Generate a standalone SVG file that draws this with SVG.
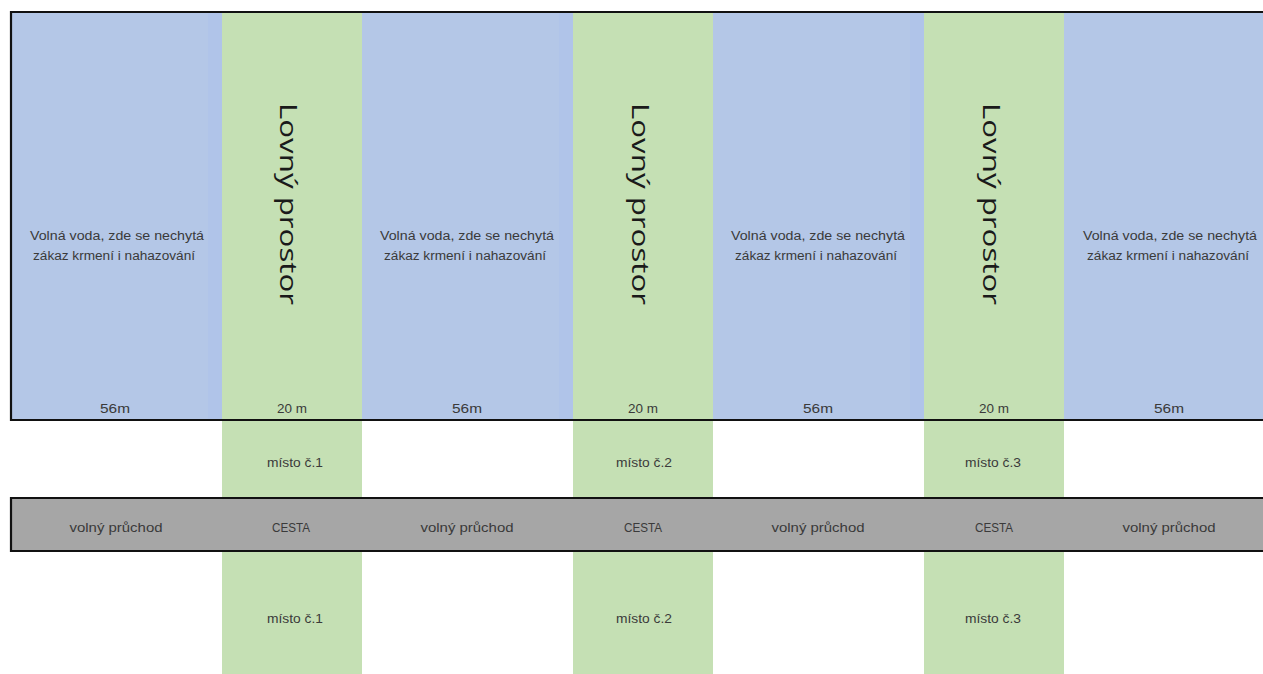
<svg xmlns="http://www.w3.org/2000/svg" width="1263" height="674" viewBox="0 0 1263 674">
  <style>
    .blue { fill: #b4c7e7; }
    .edge { fill: #b0c4e9; }
    .green { fill: #c5e0b4; }
    .road { fill: #a6a6a6; }
    .t { font-family: "Liberation Sans Narrow", "Liberation Sans", Arial, sans-serif; font-size: 12.5px; fill: #3a3a3a; text-anchor: middle; }
    .big { font-family: "Open Sans", "DejaVu Sans", sans-serif; font-size: 23px; fill: #1a1a1a; text-anchor: middle; }
    .ln { stroke: #111; stroke-width: 2.2; fill: none; }
  </style>
  <rect width="1263" height="674" fill="#ffffff"/>

  <g id="water-1">
    <rect class="blue" x="12" y="12" width="210" height="408"/>
    <rect class="edge" x="208" y="12" width="14" height="408"/>
    <text class="t" x="117" y="240" textLength="174" lengthAdjust="spacingAndGlyphs">Volná voda, zde se nechytá</text>
    <text class="t" x="114" y="260" textLength="162" lengthAdjust="spacingAndGlyphs">zákaz krmení i nahazování</text>
    <text class="t" x="115" y="413" textLength="30" lengthAdjust="spacingAndGlyphs">56m</text>
  </g>
  <g id="water-2">
    <rect class="blue" x="362" y="12" width="211" height="408"/>
    <rect class="edge" x="559" y="12" width="14" height="408"/>
    <text class="t" x="467" y="240" textLength="174" lengthAdjust="spacingAndGlyphs">Volná voda, zde se nechytá</text>
    <text class="t" x="465" y="260" textLength="162" lengthAdjust="spacingAndGlyphs">zákaz krmení i nahazování</text>
    <text class="t" x="467" y="413" textLength="30" lengthAdjust="spacingAndGlyphs">56m</text>
  </g>
  <g id="water-3">
    <rect class="blue" x="713" y="12" width="211" height="408"/>
    <rect class="edge" x="910" y="12" width="14" height="408"/>
    <text class="t" x="818" y="240" textLength="174" lengthAdjust="spacingAndGlyphs">Volná voda, zde se nechytá</text>
    <text class="t" x="816" y="260" textLength="162" lengthAdjust="spacingAndGlyphs">zákaz krmení i nahazování</text>
    <text class="t" x="818" y="413" textLength="30" lengthAdjust="spacingAndGlyphs">56m</text>
  </g>
  <g id="water-4">
    <rect class="blue" x="1064" y="12" width="199" height="408"/>
    <text class="t" x="1170" y="240" textLength="174" lengthAdjust="spacingAndGlyphs">Volná voda, zde se nechytá</text>
    <text class="t" x="1168" y="260" textLength="162" lengthAdjust="spacingAndGlyphs">zákaz krmení i nahazování</text>
    <text class="t" x="1169" y="413" textLength="30" lengthAdjust="spacingAndGlyphs">56m</text>
  </g>

  <g id="zone-1">
    <rect class="green" x="222" y="12" width="140" height="662"/>
    <text class="big" transform="translate(280,204) rotate(90)" textLength="202" lengthAdjust="spacingAndGlyphs">Lovný prostor</text>
    <text class="t" x="292" y="413" textLength="30" lengthAdjust="spacingAndGlyphs">20 m</text>
    <text class="t" x="295" y="467" textLength="56" lengthAdjust="spacingAndGlyphs">místo č.1</text>
    <text class="t" x="295" y="623" textLength="56" lengthAdjust="spacingAndGlyphs">místo č.1</text>
  </g>
  <g id="zone-2">
    <rect class="green" x="573" y="12" width="140" height="662"/>
    <text class="big" transform="translate(632,204) rotate(90)" textLength="202" lengthAdjust="spacingAndGlyphs">Lovný prostor</text>
    <text class="t" x="643" y="413" textLength="30" lengthAdjust="spacingAndGlyphs">20 m</text>
    <text class="t" x="644" y="467" textLength="56" lengthAdjust="spacingAndGlyphs">místo č.2</text>
    <text class="t" x="644" y="623" textLength="56" lengthAdjust="spacingAndGlyphs">místo č.2</text>
  </g>
  <g id="zone-3">
    <rect class="green" x="924" y="12" width="140" height="662"/>
    <text class="big" transform="translate(983,204) rotate(90)" textLength="202" lengthAdjust="spacingAndGlyphs">Lovný prostor</text>
    <text class="t" x="994" y="413" textLength="30" lengthAdjust="spacingAndGlyphs">20 m</text>
    <text class="t" x="993" y="467" textLength="56" lengthAdjust="spacingAndGlyphs">místo č.3</text>
    <text class="t" x="993" y="623" textLength="56" lengthAdjust="spacingAndGlyphs">místo č.3</text>
  </g>

  <g id="road">
    <rect class="road" x="11" y="498" width="1252" height="53"/>
    <text class="t" x="116" y="532" textLength="93" lengthAdjust="spacingAndGlyphs">volný průchod</text>
    <text class="t" x="291" y="532" textLength="38" lengthAdjust="spacingAndGlyphs">CESTA</text>
    <text class="t" x="467" y="532" textLength="93" lengthAdjust="spacingAndGlyphs">volný průchod</text>
    <text class="t" x="643" y="532" textLength="38" lengthAdjust="spacingAndGlyphs">CESTA</text>
    <text class="t" x="818" y="532" textLength="93" lengthAdjust="spacingAndGlyphs">volný průchod</text>
    <text class="t" x="994" y="532" textLength="38" lengthAdjust="spacingAndGlyphs">CESTA</text>
    <text class="t" x="1169" y="532" textLength="93" lengthAdjust="spacingAndGlyphs">volný průchod</text>
  </g>

  <g id="connectors">
    <path class="ln" d="M1264 12 H11 V420 H1264"/>
    <path class="ln" d="M1264 498 H11 V551 H1264"/>
  </g>
</svg>
